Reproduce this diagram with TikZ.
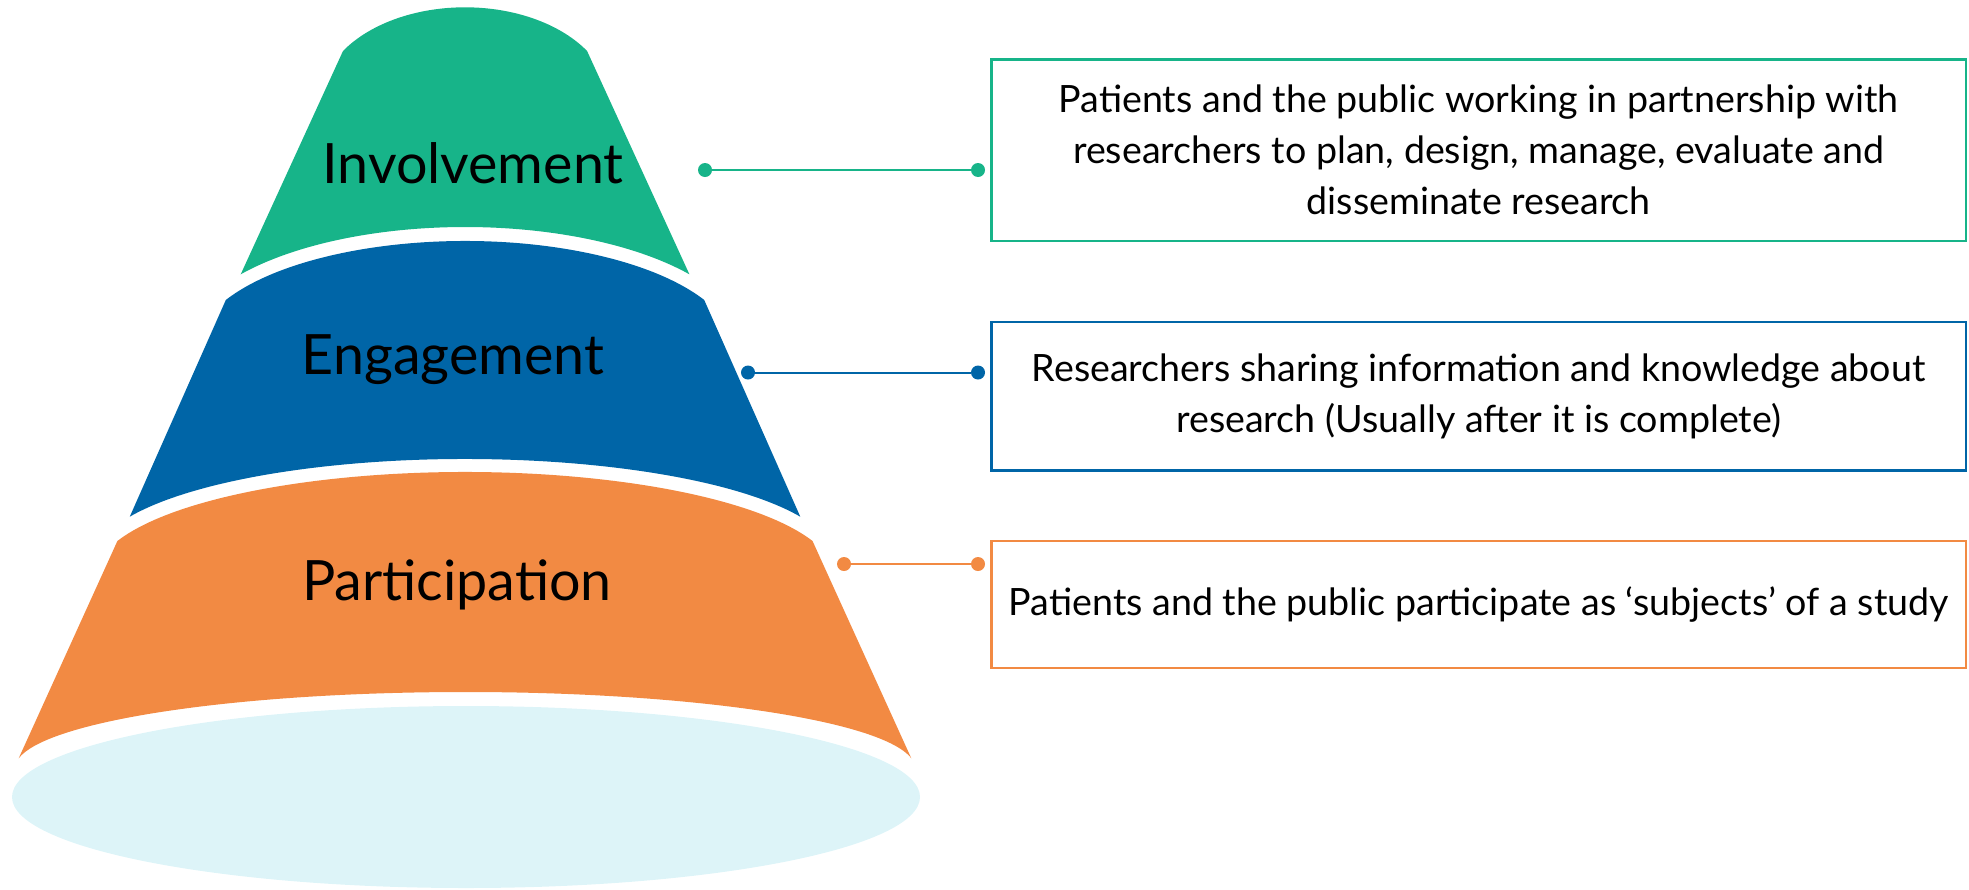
\documentclass[tikz,border=0pt]{standalone}
\usepackage{fontspec}
\setmainfont{Lato}
\definecolor{cgreen}{HTML}{17B489}
\definecolor{cblue}{HTML}{0065A7}
\definecolor{corange}{HTML}{F28A43}
\definecolor{cbase}{HTML}{DDF4F8}
\tikzset{
  layerlabel/.style={font=\fontsize{27.8}{33}\selectfont, anchor=base, inner sep=0pt, text=black},
  descbox/.style={draw, line width=1.1pt, align=center, inner sep=0pt, text=black,
    font=\fontsize{18.8}{25.5}\selectfont},
  dotnode/.style={circle, fill, inner sep=0pt, minimum size=7pt},
  link/.style={line width=1pt},
}
\begin{document}
\begin{tikzpicture}[x=0.5pt, y=-0.5pt]
\useasboundingbox (0,0) rectangle (1969,889);
% base ellipse
\fill[cbase] (466,797) ellipse [x radius=227pt, y radius=45.5pt];
% orange layer
\fill[corange] (117.4,541) arc[start angle=159.95, end angle=20.05, x radius=185pt, y radius=52.5pt]
  -- (911.3,758.3) arc[start angle=7.33, end angle=172.67, x radius=225pt, y radius=38pt] -- cycle;
% blue layer
\fill[cblue] (225.8,300) arc[start angle=152.38, end angle=27.62, x radius=135pt, y radius=55pt]
  -- (800.3,516.7) arc[start angle=25.02, end angle=154.98, x radius=185pt, y radius=50pt] -- cycle;
% green layer
\fill[cgreen] (343,51) arc[start angle=147.32, end angle=32.68, x radius=72.5pt, y radius=47.5pt]
  -- (689.4,274.3) arc[start angle=37.29, end angle=142.71, x radius=141pt, y radius=60pt] -- cycle;
% labels
\node[layerlabel] (lInv) at (473,183) {Involvement};
\node[layerlabel] (lEng) at (453,374) {Engagement};
\node[layerlabel] (lPar) at (457,600) {Participation};
% description boxes
\node[descbox, draw=cgreen, minimum width=487.25pt, minimum height=90.75pt] (dInv) at (1478.75,150.25)
  {Patients and the public working in partnership with\\researchers to plan, design, manage, evaluate and\\disseminate research};
\node[descbox, draw=cblue, minimum width=487.25pt, minimum height=74.25pt] (dEng) at (1478.75,396.25)
  {Researchers sharing information and knowledge about\\research (Usually after it is complete)};
\node[descbox, draw=corange, minimum width=487.25pt, minimum height=63.5pt] (dPar) at (1478.75,604.5)
  {Patients and the public participate as ‘subjects’ of a study};
% connectors
\node[dotnode, cgreen] (g1) at (705,170) {};
\node[dotnode, cgreen] (g2) at (978,170) {};
\draw[link, cgreen] (g1) -- (g2);
\node[dotnode, cblue] (b1) at (748,372.5) {};
\node[dotnode, cblue] (b2) at (978,372.5) {};
\draw[link, cblue] (b1) -- (b2);
\node[dotnode, corange] (o1) at (844,564) {};
\node[dotnode, corange] (o2) at (978,564) {};
\draw[link, corange] (o1) -- (o2);
\end{tikzpicture}
\end{document}
